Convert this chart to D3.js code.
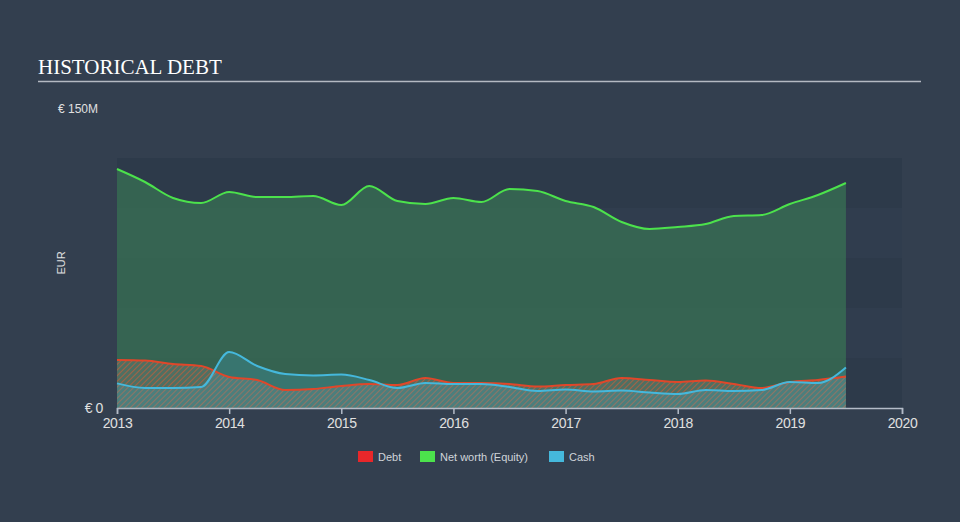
<!DOCTYPE html>
<html>
<head>
<meta charset="utf-8">
<script src="https://cdn.jsdelivr.net/npm/d3@7/dist/d3.min.js"></script>
<style>
  html, body { margin: 0; padding: 0; background: #333f4f; }
  svg { display: block; }
</style>
</head>
<body>
<svg id="chart" width="960" height="522"></svg>
<script>
// ---- data (values in € millions, dates in fractional years) ----
const dates = [2013.0, 2013.25, 2013.5, 2013.75, 2014.0, 2014.25, 2014.5, 2014.75,
  2015.0, 2015.25, 2015.5, 2015.75, 2016.0, 2016.25, 2016.5, 2016.75,
  2017.0, 2017.25, 2017.5, 2017.75, 2018.0, 2018.25, 2018.5, 2018.75,
  2019.0, 2019.25, 2019.5];
const equity = [119.5, 113, 105, 102.5, 108, 105.5, 105.5, 106,
  101.5, 111, 103.5, 102, 105, 103, 109.5, 108.5,
  103.5, 100.5, 93, 89.5, 90.5, 92, 96, 96.5,
  102, 106.5, 112.5];
const debt = [24, 23.7, 22, 21, 15.5, 14, 9, 9.5,
  11, 12, 11.5, 15, 12.5, 12.5, 12, 10.7,
  11.5, 12, 15, 14, 13, 13.7, 12, 10,
  13, 14, 15.7];
const cash = [12.3, 10, 10, 10.5, 28, 21, 17, 16.3,
  16.7, 14, 10, 12.5, 12, 12, 10.5, 8.5,
  9.3, 8.3, 8.7, 7.7, 7, 9, 8.5, 9,
  13, 12.5, 20.3];
const xTicks = [2013, 2014, 2015, 2016, 2017, 2018, 2019, 2020];
const yMax = 150;
const bandTop = 125;
const legendItems = [
  { label: "Debt", color: "#e8272a" },
  { label: "Net worth (Equity)", color: "#4ce24c" },
  { label: "Cash", color: "#45b8dc" }
];

const svg = d3.select("#chart");
const x = d3.scaleLinear().domain([2013, 2020]).range([117, 902]);
const y = d3.scaleLinear().domain([0, yMax]).range([408, 108]);

const defs = svg.append("defs");
const pat = defs.append("pattern").attr("id", "hatch")
  .attr("patternUnits", "userSpaceOnUse").attr("width", 4).attr("height", 4)
  .attr("patternTransform", "rotate(45)");
pat.append("rect").attr("width", 4).attr("height", 4).attr("fill", "#6f7f78").attr("opacity", 0.45);
pat.append("line").attr("x1", 0).attr("y1", 0).attr("x2", 0).attr("y2", 4)
  .attr("stroke", "#e2582f").attr("stroke-width", 1.8).attr("opacity", 0.65);

// title
svg.append("text").attr("x", 38).attr("y", 74)
  .attr("font-family", "Liberation Serif, Times New Roman, serif")
  .attr("font-size", 21).attr("fill", "#ffffff").text("HISTORICAL DEBT");
svg.append("line").attr("x1", 38).attr("x2", 921).attr("y1", 81.5).attr("y2", 81.5)
  .attr("stroke", "#b4b9c2").attr("stroke-width", 1.5);

// background bands
const bands = d3.range(0, bandTop, 25);
svg.append("g").selectAll("rect").data(bands).join("rect")
  .attr("x", x(2013)).attr("width", x(2020) - x(2013))
  .attr("y", d => y(d + 25)).attr("height", d => y(d) - y(d + 25))
  .attr("fill", (d, i) => i % 2 === 0 ? "#2d3a4a" : "#303d4e");

const rows = dates.map((d, i) => ({ d, e: equity[i], debt: debt[i], c: cash[i] }));
const curve = d3.curveMonotoneX;

// equity
svg.append("path").datum(rows)
  .attr("d", d3.area().curve(curve).x(r => x(r.d)).y0(y(0)).y1(r => y(r.e)))
  .attr("fill", "#3a7a55").attr("opacity", 0.65);
// debt hatch
svg.append("path").datum(rows)
  .attr("d", d3.area().curve(curve).x(r => x(r.d)).y0(y(0)).y1(r => y(r.debt)))
  .attr("fill", "url(#hatch)");
// cash fill
svg.append("path").datum(rows)
  .attr("d", d3.area().curve(curve).x(r => x(r.d)).y0(y(0)).y1(r => y(r.c)))
  .attr("fill", "#45b8dc").attr("opacity", 0.22);

// lines
svg.append("path").datum(rows)
  .attr("d", d3.line().curve(curve).x(r => x(r.d)).y(r => y(r.debt)))
  .attr("fill", "none").attr("stroke", "#e0472a").attr("stroke-width", 2);
svg.append("path").datum(rows)
  .attr("d", d3.line().curve(curve).x(r => x(r.d)).y(r => y(r.c)))
  .attr("fill", "none").attr("stroke", "#45b8dc").attr("stroke-width", 2);
svg.append("path").datum(rows)
  .attr("d", d3.line().curve(curve).x(r => x(r.d)).y(r => y(r.e)))
  .attr("fill", "none").attr("stroke", "#4ce24c").attr("stroke-width", 2);

// x axis
const xAxis = d3.axisBottom(x).tickValues(xTicks).tickFormat(d3.format("d")).tickSizeOuter(0).tickSize(6);
const gx = svg.append("g").attr("transform", `translate(0,${y(0)})`).call(xAxis);
gx.select(".domain").attr("stroke", "#b4bcc8").attr("stroke-width", 1.5);
gx.selectAll(".tick line").attr("stroke", "#b4bcc8").attr("stroke-width", 1.5);
gx.selectAll(".tick text").attr("fill", "#e0e0e0").attr("font-size", 14)
  .attr("font-family", "Liberation Sans, Arial, sans-serif").attr("dy", "0.8em")
  .attr("letter-spacing", "-0.4");

// y labels
const yLab = svg.append("g").attr("font-family", "Liberation Sans, Arial, sans-serif")
  .attr("font-size", 12).attr("fill", "#e0e0e0");
yLab.append("text").attr("x", 58).attr("y", y(yMax) + 4.5).text("€ 150M");
yLab.append("text").attr("x", 103).attr("y", y(0) + 5).attr("text-anchor", "end")
  .attr("font-size", 14).attr("letter-spacing", "-0.4").text("€ 0");
yLab.append("text").attr("transform", `translate(65,${y(yMax / 2) + 5}) rotate(-90)`)
  .attr("text-anchor", "middle").attr("font-size", 11).text("EUR");

// legend
const lg = svg.append("g").attr("font-family", "Liberation Sans, Arial, sans-serif")
  .attr("font-size", 11).attr("fill", "#d0d4da");
const legendX = [358, 420, 549];
legendItems.forEach((it, i) => {
  lg.append("rect").attr("x", legendX[i]).attr("y", 451).attr("width", 15).attr("height", 11).attr("fill", it.color);
  lg.append("text").attr("x", legendX[i] + 20).attr("y", 460.5).text(it.label);
});
</script>
</body>
</html>
